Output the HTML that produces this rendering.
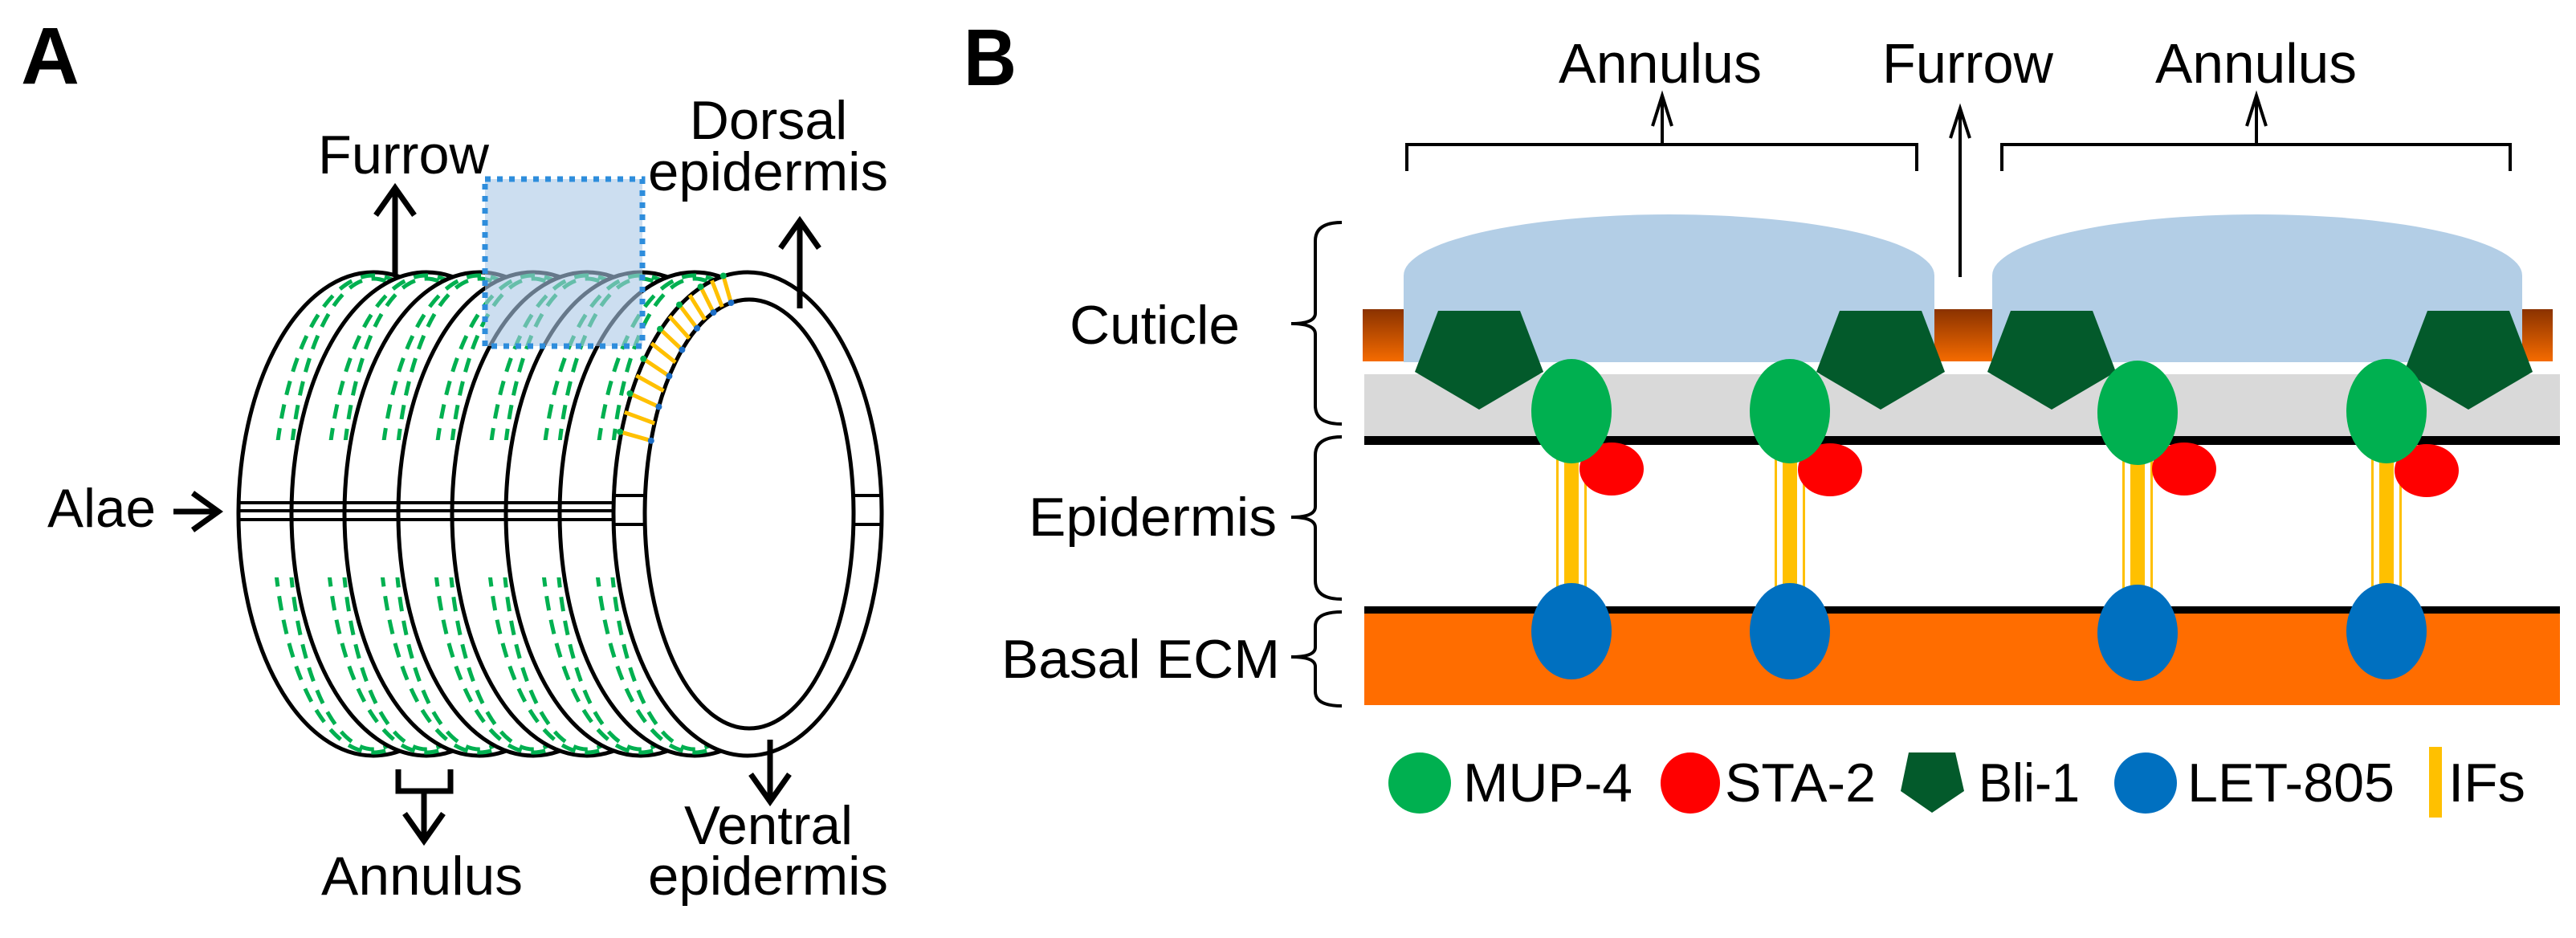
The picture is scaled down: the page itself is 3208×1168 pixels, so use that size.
<!DOCTYPE html>
<html><head><meta charset="utf-8"><style>
html,body{margin:0;padding:0;background:#fff;}
svg{display:block;}
text{font-family:"Liberation Sans",Arial,sans-serif;fill:#000;}
</style></head><body>
<svg width="3208" height="1168" viewBox="0 0 3208 1168" xmlns="http://www.w3.org/2000/svg">
<defs>
<linearGradient id="br" x1="0" y1="0" x2="0" y2="1">
<stop offset="0" stop-color="#8a3200"/><stop offset="1" stop-color="#f56b00"/>
</linearGradient>
<clipPath id="dc"><rect x="0" y="330" width="1200" height="218"/><rect x="0" y="719" width="1200" height="240"/></clipPath>
</defs>

<!-- ================= PANEL A ================= -->
<text x="26" y="104" font-size="100" font-weight="bold" textLength="73" lengthAdjust="spacingAndGlyphs">A</text>

<g stroke-width="5">
<g><ellipse cx="465" cy="640" rx="168" ry="301" fill="#fff" stroke="#000"/>
<g clip-path="url(#dc)" fill="none" stroke="#00b050" stroke-dasharray="18 12"><ellipse cx="465" cy="640" rx="125" ry="297"/><ellipse cx="465" cy="640" rx="106" ry="293"/></g></g>
<g><ellipse cx="531" cy="640" rx="168" ry="301" fill="#fff" stroke="#000"/>
<g clip-path="url(#dc)" fill="none" stroke="#00b050" stroke-dasharray="18 12"><ellipse cx="531" cy="640" rx="125" ry="297"/><ellipse cx="531" cy="640" rx="106" ry="293"/></g></g>
<g><ellipse cx="597" cy="640" rx="168" ry="301" fill="#fff" stroke="#000"/>
<g clip-path="url(#dc)" fill="none" stroke="#00b050" stroke-dasharray="18 12"><ellipse cx="597" cy="640" rx="125" ry="297"/><ellipse cx="597" cy="640" rx="106" ry="293"/></g></g>
<g><ellipse cx="664" cy="640" rx="168" ry="301" fill="#fff" stroke="#000"/>
<g clip-path="url(#dc)" fill="none" stroke="#00b050" stroke-dasharray="18 12"><ellipse cx="664" cy="640" rx="125" ry="297"/><ellipse cx="664" cy="640" rx="106" ry="293"/></g></g>
<g><ellipse cx="731" cy="640" rx="168" ry="301" fill="#fff" stroke="#000"/>
<g clip-path="url(#dc)" fill="none" stroke="#00b050" stroke-dasharray="18 12"><ellipse cx="731" cy="640" rx="125" ry="297"/><ellipse cx="731" cy="640" rx="106" ry="293"/></g></g>
<g><ellipse cx="798" cy="640" rx="168" ry="301" fill="#fff" stroke="#000"/>
<g clip-path="url(#dc)" fill="none" stroke="#00b050" stroke-dasharray="18 12"><ellipse cx="798" cy="640" rx="125" ry="297"/><ellipse cx="798" cy="640" rx="106" ry="293"/></g></g>
<g><ellipse cx="865" cy="640" rx="168" ry="301" fill="#fff" stroke="#000"/>
<g clip-path="url(#dc)" fill="none" stroke="#00b050" stroke-dasharray="18 12"><ellipse cx="865" cy="640" rx="125" ry="297"/><ellipse cx="865" cy="640" rx="106" ry="293"/></g></g>
<ellipse cx="931" cy="640" rx="167" ry="301" fill="#fff" stroke="#000"/>
<ellipse cx="933" cy="640" rx="130" ry="267" fill="#fff" stroke="#000"/>
</g>
<g stroke="#ffc000" stroke-width="5">
<line x1="900.8" y1="343.5" x2="910.4" y2="377"/><line x1="886.5" y1="349.3" x2="899.3" y2="382.1"/>
<line x1="872.5" y1="357.1" x2="888.5" y2="389.1"/><line x1="858.9" y1="367.4" x2="878" y2="398.1"/>
<line x1="846" y1="379.5" x2="868" y2="408.8"/><line x1="833.6" y1="393.7" x2="858.4" y2="421.3"/>
<line x1="822" y1="409.7" x2="849.4" y2="435.5"/><line x1="811.2" y1="427.5" x2="841.1" y2="451.2"/>
<line x1="801.3" y1="446.8" x2="833.4" y2="468.3"/><line x1="792.4" y1="467.7" x2="826.5" y2="486.7"/>
<line x1="784.5" y1="490" x2="820.4" y2="506.5"/><line x1="777.8" y1="513.3" x2="815.2" y2="527.1"/>
<line x1="772.1" y1="537.7" x2="810.8" y2="548.7"/>
</g>
<g fill="#00b050"><circle cx="900.8" cy="343.5" r="4"/><circle cx="872.5" cy="357.1" r="4"/><circle cx="846" cy="379.5" r="4"/><circle cx="822" cy="409.7" r="4"/><circle cx="801.3" cy="446.8" r="4"/><circle cx="784.5" cy="490" r="4"/><circle cx="772.1" cy="537.7" r="4"/></g>
<g fill="#1e6fc8"><circle cx="910.4" cy="377" r="4"/><circle cx="888.5" cy="389.1" r="4"/><circle cx="868" cy="408.8" r="4"/><circle cx="849.4" cy="435.5" r="4"/><circle cx="833.4" cy="468.3" r="4"/><circle cx="820.4" cy="506.5" r="4"/><circle cx="810.8" cy="548.7" r="4"/></g>
<g stroke="#000" stroke-width="4">
<line x1="297" y1="626" x2="764" y2="626"/><line x1="297" y1="636" x2="764" y2="636"/><line x1="297" y1="647" x2="764" y2="647"/>
<line x1="765" y1="617" x2="803" y2="617"/><line x1="765" y1="653" x2="803" y2="653"/>
<line x1="1064" y1="617" x2="1097" y2="617"/><line x1="1064" y1="653" x2="1097" y2="653"/>
</g>
<rect x="604" y="223" width="196" height="208" fill="rgba(170,200,230,0.6)" stroke="#2e8ddc" stroke-width="7" stroke-dasharray="7 8"/>

<g stroke="#000" stroke-width="7" fill="none">
<line x1="492" y1="343" x2="492" y2="234"/><polyline points="468,268 492,234 516,268"/>
<line x1="996" y1="384" x2="996" y2="275"/><polyline points="972,309 996,275 1020,309"/>
<line x1="959" y1="921" x2="959" y2="998"/><polyline points="935,964 959,998 983,964"/>
<line x1="216" y1="637" x2="272" y2="637"/><polyline points="240,614 272,637 240,660"/>
<polyline points="496,958 496,985 561,985 561,958"/>
<line x1="528" y1="985" x2="528" y2="1047"/><polyline points="504,1013 528,1047 552,1013"/>
</g>
<g font-size="68">
<text x="396" y="216" textLength="213" lengthAdjust="spacingAndGlyphs">Furrow</text>
<text x="957" y="173" text-anchor="middle">Dorsal</text>
<text x="807" y="237" textLength="299" lengthAdjust="spacingAndGlyphs">epidermis</text>
<text x="59" y="656" textLength="135" lengthAdjust="spacingAndGlyphs">Alae</text>
<text x="400" y="1114" textLength="251" lengthAdjust="spacingAndGlyphs">Annulus</text>
<text x="852" y="1051" textLength="210" lengthAdjust="spacingAndGlyphs">Ventral</text>
<text x="807" y="1114" textLength="299" lengthAdjust="spacingAndGlyphs">epidermis</text>
</g>

<!-- ================= PANEL B ================= -->
<text x="1200" y="106" font-size="100" font-weight="bold" textLength="66" lengthAdjust="spacingAndGlyphs">B</text>
<g font-size="70">
<text x="1941" y="103" textLength="253" lengthAdjust="spacingAndGlyphs">Annulus</text>
<text x="2344" y="103" textLength="213" lengthAdjust="spacingAndGlyphs">Furrow</text>
<text x="2684" y="103" textLength="251" lengthAdjust="spacingAndGlyphs">Annulus</text>
</g>
<g stroke="#000" stroke-width="4" fill="none">
<polyline points="1752,213 1752,180 2387,180 2387,213"/>
<polyline points="2493,213 2493,180 3126,180 3126,213"/>
<line x1="2070" y1="180" x2="2070" y2="119"/><polyline points="2058,157 2070,119 2082,157"/>
<line x1="2810" y1="180" x2="2810" y2="119"/><polyline points="2798,157 2810,119 2822,157"/>
<line x1="2441" y1="345" x2="2441" y2="135"/><polyline points="2429,172 2441,135 2453,172"/>
<path d="M1671,277 Q1638,277 1638,300 L1638,390 Q1638,403 1608,403 Q1638,403 1638,416 L1638,505 Q1638,528 1671,528"/>
<path d="M1671,544 Q1638,544 1638,567 L1638,631 Q1638,644 1608,644 Q1638,644 1638,657 L1638,723 Q1638,746 1671,746"/>
<path d="M1671,762 Q1638,762 1638,780 L1638,806 Q1638,818 1608,818 Q1638,818 1638,830 L1638,861 Q1638,879 1671,879"/>
</g>
<g font-size="68">
<text x="1332" y="428" textLength="212" lengthAdjust="spacingAndGlyphs">Cuticle</text>
<text x="1281" y="667" textLength="309" lengthAdjust="spacingAndGlyphs">Epidermis</text>
<text x="1247" y="844" textLength="347" lengthAdjust="spacingAndGlyphs">Basal ECM</text>
</g>

<rect x="1697" y="385" width="1482" height="65" fill="url(#br)"/>
<path d="M1748,451 L1748,343 A330.5,76 0 0 1 2409,343 L2409,451 Z" fill="#b3cee6"/>
<path d="M2481,451 L2481,343 A330,76 0 0 1 3141,343 L3141,451 Z" fill="#b3cee6"/>
<rect x="1699" y="466" width="1489" height="80" fill="#d9d9d9"/>
<rect x="1699" y="543" width="1489" height="11" fill="#000"/>
<rect x="1699" y="763" width="1489" height="115" fill="#ff6d00"/>
<rect x="1699" y="755" width="1489" height="9" fill="#000"/>

<g fill="#035a2b">
<polygon points="1791,387 1893,387 1922,463 1842,510 1762,463"/>
<polygon points="2291,387 2393,387 2422,463 2342,510 2262,463"/>
<polygon points="2504,387 2606,387 2635,463 2555,510 2475,463"/>
<polygon points="3023,387 3125,387 3154,463 3074,510 2994,463"/>
</g>

<g fill="#ffc000">
<rect x="1938" y="570" width="3" height="170"/><rect x="1948" y="570" width="18" height="170"/><rect x="1973" y="570" width="3" height="170"/>
<rect x="2210" y="570" width="3" height="170"/><rect x="2220" y="570" width="18" height="170"/><rect x="2245" y="570" width="3" height="170"/>
<rect x="2643" y="570" width="3" height="170"/><rect x="2653" y="570" width="18" height="170"/><rect x="2678" y="570" width="3" height="170"/>
<rect x="2953" y="570" width="3" height="170"/><rect x="2963" y="570" width="18" height="170"/><rect x="2988" y="570" width="3" height="170"/>
</g>
<g fill="#ff0000">
<ellipse cx="2007" cy="584" rx="40" ry="33"/><ellipse cx="2279" cy="585" rx="40" ry="33"/>
<ellipse cx="2720" cy="584" rx="40" ry="33"/><ellipse cx="3022" cy="586" rx="40" ry="33"/>
</g>
<g fill="#00b050">
<ellipse cx="1957" cy="512" rx="50" ry="65"/><ellipse cx="2229" cy="512" rx="50" ry="65"/>
<ellipse cx="2662" cy="514" rx="50" ry="65"/><ellipse cx="2972" cy="512" rx="50" ry="65"/>
</g>
<g fill="#0070c0">
<ellipse cx="1957" cy="786" rx="50" ry="60"/><ellipse cx="2229" cy="786" rx="50" ry="60"/>
<ellipse cx="2662" cy="788" rx="50" ry="60"/><ellipse cx="2972" cy="786" rx="50" ry="60"/>
</g>

<ellipse cx="1768" cy="975" rx="39" ry="38" fill="#00b050"/>
<ellipse cx="2105" cy="975" rx="37" ry="38" fill="#ff0000"/>
<polygon points="2377,937 2435,937 2446,985 2406,1012 2367,985" fill="#035a2b"/>
<ellipse cx="2672" cy="975" rx="39" ry="38" fill="#0070c0"/>
<rect x="3025" y="930" width="16" height="88" fill="#ffc000"/>
<g font-size="68">
<text x="1822" y="998" textLength="211" lengthAdjust="spacingAndGlyphs">MUP-4</text>
<text x="2148" y="998" textLength="188" lengthAdjust="spacingAndGlyphs">STA-2</text>
<text x="2464" y="998" textLength="126" lengthAdjust="spacingAndGlyphs">Bli-1</text>
<text x="2724" y="998" textLength="258" lengthAdjust="spacingAndGlyphs">LET-805</text>
<text x="3049" y="998" textLength="96" lengthAdjust="spacingAndGlyphs">IFs</text>
</g>
</svg>
</body></html>
